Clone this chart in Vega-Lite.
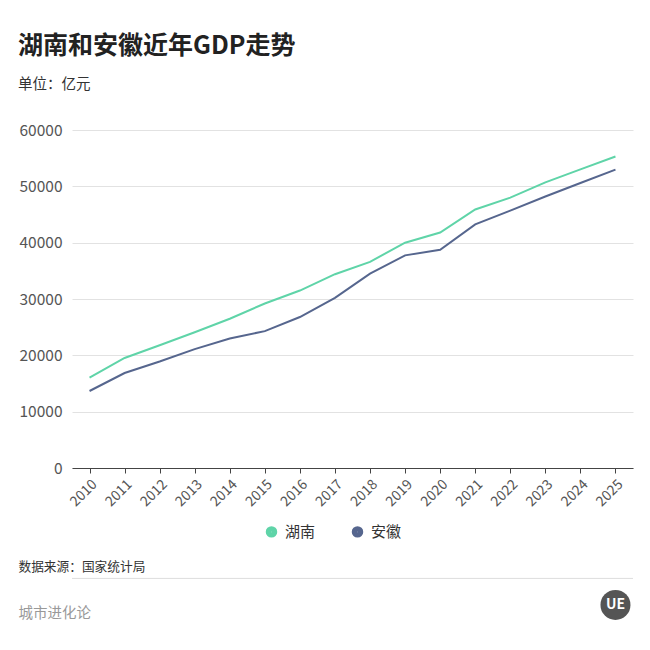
{
  "$schema": "https://vega.github.io/schema/vega-lite/v6.json",
  "autosize": "none",
  "width": 561,
  "height": 338,
  "padding": {"left": 72, "top": 130, "right": 17, "bottom": 182},
  "background": "white",
  "title": {
    "text": "湖南和安徽近年GDP走势",
    "subtitle": "单位：亿元",
    "anchor": "start",
    "frame": "bounds",
    "font": "Noto Sans CJK SC",
    "fontSize": 25,
    "fontWeight": "bold",
    "color": "#222222",
    "subtitleFont": "Noto Sans CJK SC",
    "subtitleFontSize": 14.5,
    "subtitleColor": "#333333",
    "subtitlePadding": 19,
    "offset": 32
  },
  "layer": [
    {
      "data": {
        "values": [
          {"year": "2010", "region": "湖南", "gdp": 16040},
          {"year": "2011", "region": "湖南", "gdp": 19530},
          {"year": "2012", "region": "湖南", "gdp": 21800},
          {"year": "2013", "region": "湖南", "gdp": 24100},
          {"year": "2014", "region": "湖南", "gdp": 26500},
          {"year": "2015", "region": "湖南", "gdp": 29200},
          {"year": "2016", "region": "湖南", "gdp": 31500},
          {"year": "2017", "region": "湖南", "gdp": 34400},
          {"year": "2018", "region": "湖南", "gdp": 36600},
          {"year": "2019", "region": "湖南", "gdp": 40000},
          {"year": "2020", "region": "湖南", "gdp": 41800},
          {"year": "2021", "region": "湖南", "gdp": 45900},
          {"year": "2022", "region": "湖南", "gdp": 48000},
          {"year": "2023", "region": "湖南", "gdp": 50700},
          {"year": "2024", "region": "湖南", "gdp": 53000},
          {"year": "2025", "region": "湖南", "gdp": 55300},
          {"year": "2010", "region": "安徽", "gdp": 13670},
          {"year": "2011", "region": "安徽", "gdp": 16860},
          {"year": "2012", "region": "安徽", "gdp": 18900},
          {"year": "2013", "region": "安徽", "gdp": 21100},
          {"year": "2014", "region": "安徽", "gdp": 23000},
          {"year": "2015", "region": "安徽", "gdp": 24300},
          {"year": "2016", "region": "安徽", "gdp": 26800},
          {"year": "2017", "region": "安徽", "gdp": 30200},
          {"year": "2018", "region": "安徽", "gdp": 34500},
          {"year": "2019", "region": "安徽", "gdp": 37750},
          {"year": "2020", "region": "安徽", "gdp": 38750},
          {"year": "2021", "region": "安徽", "gdp": 43250},
          {"year": "2022", "region": "安徽", "gdp": 45700},
          {"year": "2023", "region": "安徽", "gdp": 48200},
          {"year": "2024", "region": "安徽", "gdp": 50600},
          {"year": "2025", "region": "安徽", "gdp": 52960}
        ]
      },
      "mark": {"type": "line", "strokeWidth": 2},
      "encoding": {
        "x": {
          "field": "year",
          "type": "ordinal",
          "scale": {"type": "point", "padding": 0.5},
          "axis": {
            "labelAngle": -45,
            "labelFontSize": 14,
            "labelColor": "#555555",
            "labelPadding": 4,
            "tickColor": "#444444",
            "tickSize": 5,
            "domainColor": "#444444",
            "grid": false,
            "title": "数据来源：国家统计局",
            "titleFontSize": 12.7,
            "titleFontWeight": "normal",
            "titleColor": "#333333",
            "titleAlign": "left",
            "titleBaseline": "alphabetic",
            "titleX": -54,
            "titleY": 102
          }
        },
        "y": {
          "field": "gdp",
          "type": "quantitative",
          "scale": {"domain": [0, 60000], "nice": false},
          "axis": {
            "values": [0, 10000, 20000, 30000, 40000, 50000, 60000],
            "format": "d",
            "domain": false,
            "ticks": false,
            "gridColor": "#e2e2e2",
            "labelFontSize": 15.5,
            "labelColor": "#555555",
            "labelPadding": 10,
            "title": "城市进化论",
            "titleAngle": 0,
            "titleFontSize": 14.5,
            "titleFontWeight": "normal",
            "titleColor": "#999999",
            "titleAlign": "left",
            "titleBaseline": "alphabetic",
            "titleX": -54,
            "titleY": 487
          }
        },
        "color": {
          "field": "region",
          "type": "nominal",
          "scale": {"domain": ["湖南", "安徽"], "range": ["#5fd4a8", "#56668e"]},
          "legend": {
            "orient": "none",
            "legendX": 192,
            "legendY": 394,
            "direction": "horizontal",
            "title": null,
            "symbolType": "circle",
            "symbolSize": 30,
            "symbolStrokeWidth": 6,
            "labelFontSize": 15,
            "labelColor": "#333333",
            "labelOffset": 6,
            "columnPadding": 26,
            "padding": 0
          }
        }
      }
    },
    {
      "data": {"values": [{"note": "separator"}]},
      "mark": {"type": "rule", "color": "#dddddd", "strokeWidth": 1},
      "encoding": {"y": {"datum": -19600}}
    },
    {
      "data": {"values": [{"note": "UE"}]},
      "mark": {"type": "point", "filled": true, "color": "#555555", "opacity": 1, "size": 900},
      "encoding": {"x": {"datum": "2025"}, "y": {"datum": -24300}}
    },
    {
      "data": {"values": [{"note": "UE"}]},
      "mark": {"type": "text", "color": "white", "fontSize": 14, "fontWeight": "bold", "font": "Noto Sans CJK SC"},
      "encoding": {"x": {"datum": "2025"}, "y": {"datum": -24300}, "text": {"field": "note"}}
    }
  ],
  "config": {
    "font": "Noto Sans CJK SC",
    "view": {"stroke": null}
  }
}
